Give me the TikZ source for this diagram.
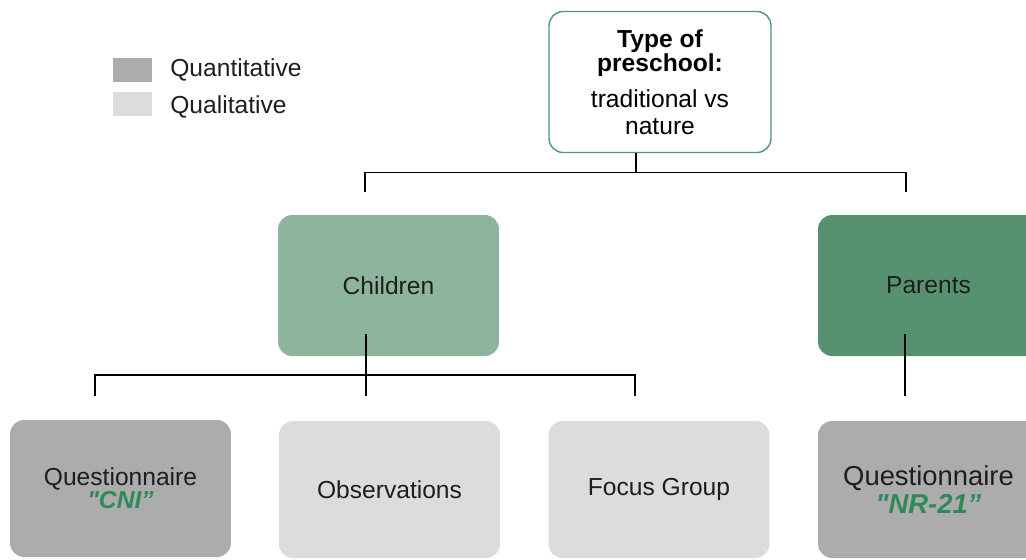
\documentclass[tikz,border=0pt]{standalone}
\usepackage{fontspec}
\setmainfont{Liberation Sans}
\newfontfamily\rawsans{Liberation Sans}
\usepackage{tikz}
\usetikzlibrary{positioning, calc}
\definecolor{cQuant}{RGB}{172,172,172}
\definecolor{cQual}{RGB}{220,220,220}
\definecolor{cChild}{RGB}{141,181,157}
\definecolor{cParent}{RGB}{87,146,112}
\definecolor{cFrame}{RGB}{76,154,106}
\definecolor{cName}{RGB}{46,139,87}
\definecolor{cInk}{RGB}{30,30,30}
\newcommand{\toolname}[1]{{\rawsans\color{cName}\bfseries\itshape #1}}
\tikzset{
	% legend styles
	keybox/.style ={rectangle, minimum width=0.78cm, minimum height=0.48cm, inner sep=0pt},
	keytext/.style={anchor=west, inner sep=0pt, text=cInk},
	% tree styles
	topbox/.style ={rectangle, rounded corners=8pt, draw=cFrame, line width=0.8pt, fill=white, minimum width=4.44cm, minimum height=2.82cm, align=center, text=black},
	group/.style  ={rectangle, rounded corners=8pt, minimum width=4.42cm, minimum height=2.82cm, align=center, text=cInk},
	method/.style ={rectangle, rounded corners=8pt, minimum width=4.42cm, minimum height=2.74cm, align=center, text=cInk},
	conn/.style   ={line width=1pt, black},
}
\begin{document}
\begin{tikzpicture}[x=0.02cm, y=-0.02cm, font=\fontsize{14}{17}\selectfont]
	\useasboundingbox (0,0) rectangle (1026,559);
	\clip (0,0) rectangle (1026,559);
	% legend
	\node[keybox, fill=cQuant] (kquant) at (132.5,69.5) {};
	\node[keybox, fill=cQual] (kqual) at (132.5,103.5) {};
	\node[keytext] (lquant) at (170,70) {Quantitative};
	\node[keytext] (lqual) at (170,107) {Qualitative};
	% boxes
	\node[topbox] (type) at (660,82) {\textbf{Type of}\\[-3pt]\textbf{preschool:}\\[3pt]traditional vs\\[-1.5pt]nature};
	\node[group, fill=cChild] (children) at (388.5,285.5) {Children};
	\node[group, fill=cParent] (parents) at (928.5,285.5) {Parents};
	\node[method, fill=cQuant] (qcni) at (120.5,488.5) {Questionnaire\\[-4pt]\toolname{"CNI”}};
	\node[method, fill=cQual] (obs) at (389.5,489.5) {Observations};
	\node[method, fill=cQual] (focus) at (659,489.5) {Focus Group};
	\node[method, fill=cQuant, font=\fontsize{15.6}{19}\selectfont] (qnr) at (928.5,489.5) {Questionnaire\\[-3pt]\toolname{"NR-21”}};
	% connectors
	\coordinate (topbus) at (636,172.5);
	\coordinate (childtop) at (365,192);
	\coordinate (parenttop) at (906,192);
	\draw[conn] ($(type.south)+(-24,0)$) -- (topbus);
	\draw[conn] (childtop) -- (childtop |- topbus) -- (parenttop |- topbus) -- (parenttop);
	\coordinate (childbus) at (366,375);
	\coordinate (cnidrop) at (95,396);
	\coordinate (obsdrop) at (366,396);
	\coordinate (focusdrop) at (635,396);
	\coordinate (qnrdrop) at (905,396);
	\draw[conn] ($(children.south)+(-22.5,-22)$) -- (obsdrop);
	\draw[conn] (cnidrop) -- (cnidrop |- childbus) -- (focusdrop |- childbus) -- (focusdrop);
	\draw[conn] ($(parents.south)+(-23.5,-22)$) -- (qnrdrop);
\end{tikzpicture}
\end{document}
